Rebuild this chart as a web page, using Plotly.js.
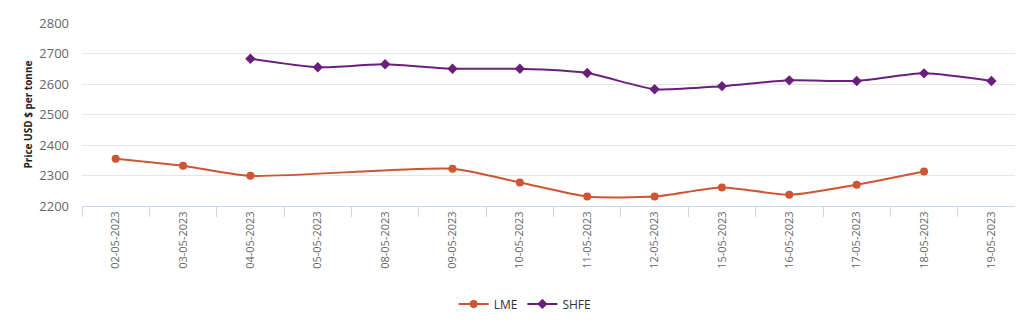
<!DOCTYPE html>
<html>
<head>
<meta charset="utf-8">
<script src="https://cdn.plot.ly/plotly-3.0.1.min.js"></script>
<style>html,body{margin:0;padding:0;background:#fff;}#chart{width:1026px;height:329px;}</style>
</head>
<body>
<div id="chart"></div>
<script>
const categories = ["02-05-2023","03-05-2023","04-05-2023","05-05-2023","08-05-2023","09-05-2023","10-05-2023","11-05-2023","12-05-2023","15-05-2023","16-05-2023","17-05-2023","18-05-2023","19-05-2023"];
const lmeValues = [2355, 2332, 2299, null, null, 2322, 2277, 2231, 2231, 2261, 2237, 2270, 2313, null];
const shfeValues = [null, null, 2683, 2655, 2665, 2650, 2650, 2636, 2583, 2593, 2612, 2610, 2635, 2610];
const yTicks = [2200, 2300, 2400, 2500, 2600, 2700, 2800];

const traces = [
  {
    type: "scatter", mode: "lines+markers", name: "LME",
    x: categories, y: lmeValues, connectgaps: true,
    line: {color: "#cc5533", width: 2, shape: "spline", smoothing: 0.6},
    marker: {symbol: "circle", size: 8, color: "#cc5533"}
  },
  {
    type: "scatter", mode: "lines+markers", name: "SHFE",
    x: categories, y: shfeValues, connectgaps: true,
    line: {color: "#6b1f7c", width: 2, shape: "spline", smoothing: 0.6},
    marker: {symbol: "diamond", size: 8, color: "#6b1f7c"}
  }
];

const layout = {
  width: 1026, height: 329,
  margin: {l: 82, r: 11, t: 23, b: 121},
  paper_bgcolor: "#fff", plot_bgcolor: "#fff",
  font: {family: "Open Sans, sans-serif", color: "#666"},
  showlegend: true,
  legend: {
    orientation: "h", x: 0.475, xanchor: "center", y: -0.535, yanchor: "middle",
    font: {size: 12, color: "#333"}, itemwidth: 30
  },
  xaxis: {
    type: "category", categoryorder: "array", categoryarray: categories,
    range: [-0.5, 13.35], tickson: "boundaries",
    ticks: "outside", ticklen: 10, tickcolor: "#ccd6eb", tickwidth: 1,
    showline: true, linecolor: "#ccd6eb", linewidth: 1,
    showgrid: false, zeroline: false,
    tickangle: -90, tickfont: {size: 11, color: "#666"},
    fixedrange: true
  },
  yaxis: {
    range: [2200, 2800], tickvals: yTicks, ticktext: yTicks.map(String),
    showgrid: true, gridcolor: "#e6e6e6", gridwidth: 1,
    zeroline: false, showline: false, ticks: "",
    tickfont: {size: 13, color: "#666"}, ticklabelstandoff: 12,
    title: {text: "<b>Price USD $ per tonne</b>", font: {size: 10, color: "#222"}, standoff: 4},
    fixedrange: true
  }
};

Plotly.newPlot("chart", traces, layout, {displayModeBar: false, staticPlot: true});
</script>
</body>
</html>
